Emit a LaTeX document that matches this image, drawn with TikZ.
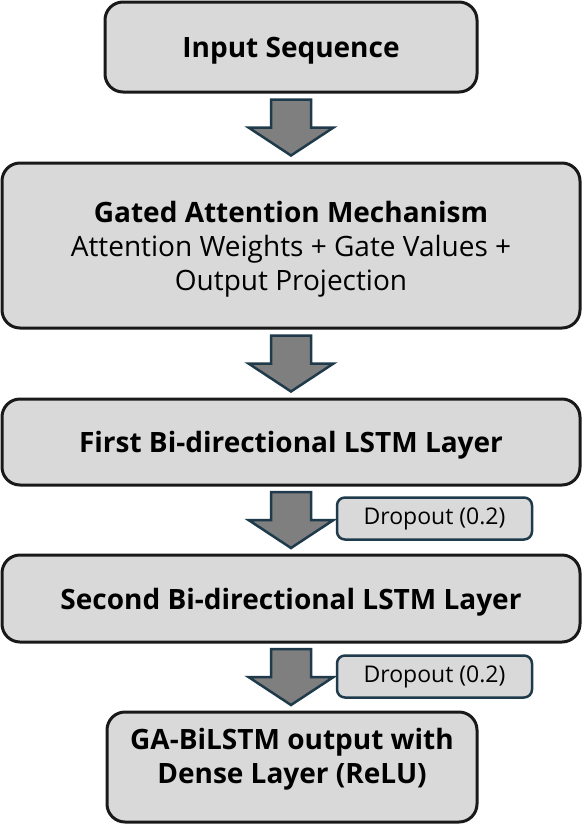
\documentclass[tikz,border=0pt]{standalone}
\usepackage{fontspec}
\setmainfont{Open Sans}
\usetikzlibrary{positioning,calc}

\definecolor{boxgray}{HTML}{D9D9D9}
\definecolor{arrowgray}{HTML}{7F7F7F}
\definecolor{edgeblue}{HTML}{1F3A4A}

\tikzset{
  downarrow/.pic={
    \draw[draw=edgeblue, fill=arrowgray, line width=2.5pt, line join=miter]
      (-20,-28) -- (20,-28) -- (20,0) -- (42.5,0) -- (0,28) -- (-42.5,0) -- (-20,0) -- cycle;
  }
}

\begin{document}
\begin{tikzpicture}[x=1pt, y=-1pt,
  layer/.style={draw=black!90, fill=boxgray, line width=3pt, rounded corners=18pt, align=center, font=\fontsize{28}{34}\selectfont, inner sep=0pt, outer sep=0pt, text depth=0pt},
  dropbox/.style={draw=edgeblue, fill=boxgray, line width=2.5pt, rounded corners=8pt, minimum width=195pt, minimum height=42pt, font=\fontsize{23}{27}\selectfont, inner sep=0pt, outer sep=0pt}
]
\useasboundingbox (0,0) rectangle (582,825);

\node[layer, minimum width=372pt, minimum height=90pt] (inp) at (291,47) {\bfseries Input Sequence};
\node[layer, minimum width=578pt, minimum height=165pt, below=71pt of inp] (gam)
  {{\bfseries Gated Attention Mechanism}\\Attention Weights + Gate Values +\\Output Projection};
\node[layer, minimum width=578pt, minimum height=86pt, below=71pt of gam] (lstm1) {\bfseries First Bi-directional LSTM Layer};
\node[layer, minimum width=578pt, minimum height=87pt, below=70pt of lstm1] (lstm2) {\bfseries Second Bi-directional LSTM Layer};
\node[layer, minimum width=370pt, minimum height=110pt, text depth=23pt, below=70pt of lstm2, xshift=1pt] (out)
  {\bfseries GA-BiLSTM output with\\\bfseries Dense Layer (ReLU)};

% block arrows between the layers
\coordinate (m1) at ($(inp.south)!0.5!(gam.north)$);
\coordinate (m2) at ($(gam.south)!0.5!(lstm1.north)$);
\coordinate (m3) at ($(lstm1.south)!0.5!(lstm2.north)$);
\coordinate (m4) at ($(lstm2.south)!0.5!(out.north -| inp.south)$);
\pic at (m1) {downarrow};
\pic at (m2) {downarrow};
\pic at (m3) {downarrow};
\pic at (m4) {downarrow};

\node[dropbox, right=46pt of m3, yshift=1.5pt] (drop1) {Dropout (0.2)};
\node[dropbox, right=46pt of m4, yshift=0.5pt] (drop2) {Dropout (0.2)};
\end{tikzpicture}
\end{document}
